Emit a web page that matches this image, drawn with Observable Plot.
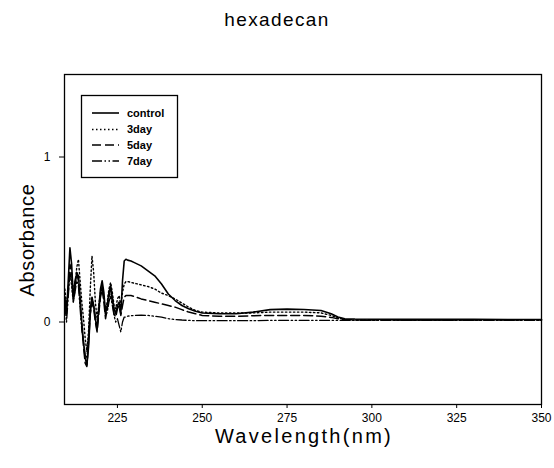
<!DOCTYPE html>
<html>
<head>
<meta charset="utf-8">
<script src="https://cdn.jsdelivr.net/npm/d3@7"></script>
<script src="https://cdn.jsdelivr.net/npm/@observablehq/plot@0.6"></script>
<style>
  html, body { margin: 0; padding: 0; background: #fff; }
  #wrap { position: relative; width: 554px; height: 468px; font-family: "Liberation Sans", Arial, sans-serif; color: #000; }
  #wrap svg.plot { position: absolute; left: 0; top: 0; }
  .title { position: absolute; top: 9px; left: 0; width: 554px; text-align: center; padding-right: 2px; font-size: 19px; letter-spacing: 1.4px; }
  .xlabel { position: absolute; top: 425px; left: 0; width: 608px; text-align: center; font-size: 20px; letter-spacing: 2.3px; }
  .ylabel { position: absolute; left: 27px; top: 240px; transform: translate(-50%, -50%) rotate(-90deg); font-size: 20px; letter-spacing: 0.6px; white-space: nowrap; }
  #legend { position: absolute; left: 0; top: 0; }
</style>
</head>
<body>
<div id="wrap">
  <div class="title">hexadecan</div>
  <div class="xlabel">Wavelength(nm)</div>
  <div class="ylabel">Absorbance</div>
</div>
<script>
const wavelength = [209.5,210,210.5,211,211.5,212,212.5,213,213.5,214,214.5,215,215.5,216,216.5,217,217.5,218,218.5,219,219.5,220,220.5,221,221.5,222,222.5,223,223.5,224,224.5,225,225.5,226,226.5,227,227.5,228,229,230,232,234,236,238,240,242,244,246,248,250,255,260,265,270,275,280,285,288,290,292,295,300,310,320,330,340,350];
const control = [0.12,0.05,0.25,0.45,0.35,0.15,0.22,0.30,0.28,0.15,0.0,-0.12,-0.22,-0.26,-0.15,0.05,0.15,0.10,0.02,-0.05,0.08,0.20,0.25,0.18,0.05,0.10,0.18,0.22,0.15,0.08,0.05,0.10,0.12,0.05,0.25,0.37,0.38,0.375,0.37,0.36,0.34,0.31,0.28,0.23,0.17,0.13,0.10,0.08,0.065,0.055,0.05,0.05,0.06,0.075,0.078,0.076,0.07,0.05,0.03,0.02,0.018,0.017,0.016,0.017,0.016,0.015,0.015];
const day3 = [0.20,0.10,0.18,0.30,0.22,0.12,0.20,0.33,0.38,0.25,0.12,0.02,-0.10,-0.18,-0.05,0.20,0.40,0.30,0.12,0.02,0.10,0.18,0.22,0.14,0.08,0.12,0.20,0.24,0.18,0.10,0.08,0.14,0.16,0.10,0.18,0.23,0.245,0.245,0.24,0.235,0.225,0.215,0.20,0.175,0.16,0.14,0.115,0.09,0.07,0.06,0.055,0.055,0.055,0.06,0.06,0.06,0.055,0.04,0.025,0.015,0.012,0.012,0.012,0.012,0.012,0.012,0.012];
const day5 = [0.15,0.08,0.20,0.35,0.30,0.18,0.25,0.30,0.25,0.12,-0.02,-0.15,-0.25,-0.27,-0.12,0.05,0.12,0.08,0.0,-0.06,0.05,0.15,0.20,0.12,0.02,0.08,0.15,0.20,0.12,0.05,0.03,0.08,0.10,0.04,0.10,0.15,0.16,0.16,0.16,0.155,0.14,0.13,0.12,0.11,0.10,0.09,0.075,0.06,0.05,0.04,0.035,0.035,0.038,0.04,0.04,0.04,0.035,0.028,0.02,0.015,0.012,0.012,0.012,0.012,0.012,0.012,0.012];
const day7 = [0.10,0.0,0.15,0.30,0.25,0.12,0.18,0.25,0.22,0.08,-0.05,-0.12,-0.20,-0.22,-0.08,0.08,0.15,0.10,0.03,-0.03,0.06,0.16,0.22,0.15,0.04,0.06,0.12,0.16,0.10,0.04,0.0,0.02,-0.02,-0.06,0.0,0.03,0.03,0.035,0.038,0.04,0.042,0.04,0.035,0.03,0.02,0.015,0.012,0.01,0.008,0.008,0.008,0.008,0.008,0.01,0.01,0.01,0.01,0.01,0.01,0.01,0.01,0.01,0.01,0.01,0.01,0.01,0.01];
const seriesNames = ["control", "3day", "5day", "7day"];
const xTicks = [225, 250, 275, 300, 325, 350];
const yTicks = [0, 1];

const seriesValues = [control, day3, day5, day7];
const dashes = [null, "1.5,2.5", "9,4", "10,2.5,1.5,2.5,1.5,2.5"];
const widths = [1.6, 1.4, 1.5, 1.3];

const rows = (vals) => wavelength.map((w, i) => ({w, a: vals[i]}));

const lineMarks = seriesValues.map((vals, k) =>
  Plot.line(rows(vals), {x: "w", y: "a", stroke: "black", strokeWidth: widths[k], strokeDasharray: dashes[k]})
);

const chart = Plot.plot({
  width: 554, height: 468,
  marginLeft: 64, marginRight: 13, marginTop: 74, marginBottom: 64,
  x: {domain: [209.4, 350]},
  y: {domain: [-0.5, 1.5]},
  style: {fontFamily: "'Liberation Sans', Arial, sans-serif", fontSize: "12px", background: "transparent", color: "black"},
  marks: [
    ...lineMarks.slice().reverse(),
    Plot.frame({stroke: "black", strokeWidth: 1.3}),
    Plot.axisX({ticks: xTicks, tickSize: 4, tickPadding: 5, label: null, tickFormat: d => String(d), fontSize: 12}),
    Plot.axisY({ticks: yTicks, tickSize: 5, tickPadding: 9, label: null, tickFormat: d => String(d), fontSize: 12})
  ]
});
chart.classList.add("plot");
const wrap = document.getElementById("wrap");
wrap.insertBefore(chart, wrap.firstChild);

// legend
const ns = "http://www.w3.org/2000/svg";
const leg = document.createElementNS(ns, "svg");
leg.setAttribute("id", "legend");
leg.setAttribute("width", 554);
leg.setAttribute("height", 468);
const rect = document.createElementNS(ns, "rect");
rect.setAttribute("x", 81.5); rect.setAttribute("y", 95.5);
rect.setAttribute("width", 96); rect.setAttribute("height", 82);
rect.setAttribute("fill", "white"); rect.setAttribute("stroke", "black"); rect.setAttribute("stroke-width", 1.3);
leg.appendChild(rect);
const rowY = [113, 129.5, 145, 161];
seriesNames.forEach((name, k) => {
  const ln = document.createElementNS(ns, "line");
  ln.setAttribute("x1", 92); ln.setAttribute("x2", 119);
  ln.setAttribute("y1", rowY[k]); ln.setAttribute("y2", rowY[k]);
  ln.setAttribute("stroke", "black"); ln.setAttribute("stroke-width", widths[k]);
  if (dashes[k]) ln.setAttribute("stroke-dasharray", dashes[k]);
  leg.appendChild(ln);
  const t = document.createElementNS(ns, "text");
  t.setAttribute("x", 127); t.setAttribute("y", rowY[k]);
  t.setAttribute("dy", "0.35em");
  t.setAttribute("font-size", 11);
  t.setAttribute("font-weight", "bold");
  t.setAttribute("font-family", "'Liberation Sans', Arial, sans-serif");
  t.textContent = name;
  leg.appendChild(t);
});
wrap.appendChild(leg);
</script>
</body>
</html>
